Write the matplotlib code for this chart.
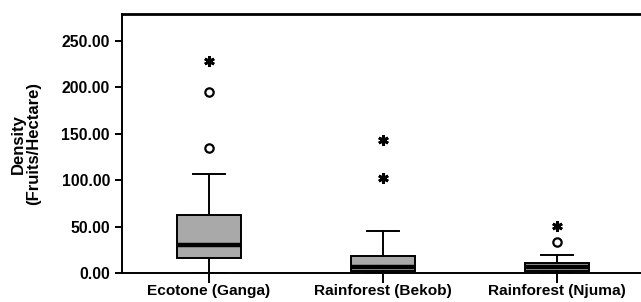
import matplotlib.pyplot as plt

plt.rcParams['font.family'] = ['Liberation Sans', 'DejaVu Sans']
plt.rcParams['font.weight'] = 'bold'

# sites and box statistics
sites = ["Ecotone (Ganga)", "Rainforest (Bekob)", "Rainforest (Njuma)"]
q1 = [16.0, 2.8, 2.8]
med = [30.4, 7.0, 6.5]
q3 = [62.7, 18.6, 11.4]
whislo = [0.0, 0.0, 0.0]
whishi = [106.5, 45.5, 19.7]

# outliers (circles) and extremes (asterisks)
out_site = [1, 1, 3]
out_val = [194.6, 134.4, 33.3]
ext_site = [1, 2, 2, 3]
ext_val = [228.0, 143.3, 102.0, 50.9]

yticks = [0, 50, 100, 150, 200, 250]

fig = plt.figure(figsize=(6.41, 3.02), dpi=100)
ax = fig.add_axes([0.19, 0.095, 0.815, 0.859])

stats = []
for i in range(len(sites)):
    stats.append({"q1": q1[i], "med": med[i], "q3": q3[i],
                  "whislo": whislo[i], "whishi": whishi[i], "fliers": []})

ax.bxp(stats, positions=[1, 2, 3], widths=0.365, patch_artist=True,
       showfliers=False,
       boxprops=dict(facecolor="#a9a9a9", edgecolor="black", linewidth=1.4),
       medianprops=dict(color="black", linewidth=3.2, solid_capstyle="butt"),
       whiskerprops=dict(color="black", linewidth=1.4),
       capprops=dict(color="black", linewidth=1.4),
       capwidths=0.18)

ax.plot(out_site, out_val, linestyle="none", marker="o", markersize=6,
        markerfacecolor="white", markeredgecolor="black", markeredgewidth=1.6)
ax.plot(ext_site, ext_val, linestyle="none", marker=(6, 2, 0), markersize=7.5,
        color="black", markeredgewidth=2.0)

ax.set_xlim(0.5, 3.5)
ax.set_ylim(0, 279)
ax.set_yticks(yticks)
ax.set_yticklabels(["%.2f" % v for v in yticks], fontsize=11.4, fontweight="bold")
ax.set_xticks([1, 2, 3])
ax.set_xticklabels(sites, fontsize=11.1, fontweight="bold")
ax.tick_params(axis="y", direction="out", length=5, width=1.4, pad=3.5)
ax.tick_params(axis="x", direction="out", length=7.5, width=1.4, pad=0)

ax.set_ylabel("Density\n(Fruits/Hectare)", fontsize=12, fontweight="bold",
              labelpad=15, linespacing=1.0)

for s in ["left", "bottom"]:
    ax.spines[s].set_linewidth(1.4)
ax.spines["top"].set_linewidth(2.0)
ax.spines["right"].set_visible(False)

fig.savefig("out.png", dpi=100)
